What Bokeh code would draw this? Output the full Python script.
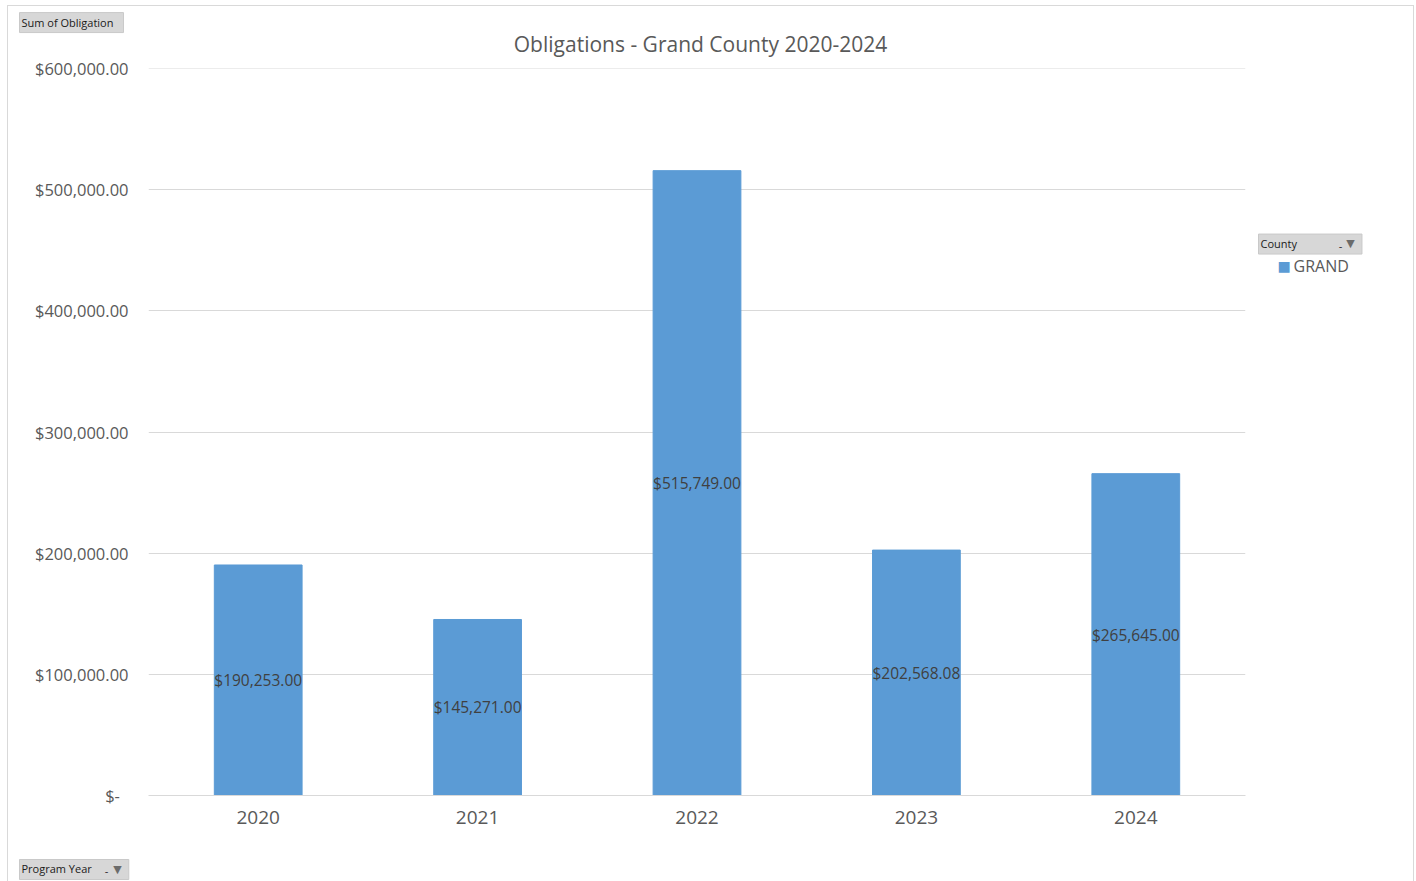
from bokeh.plotting import figure
from bokeh.models import (ColumnDataSource, Range1d, FixedTicker, NumeralTickFormatter,
                          Label, LabelSet)
from bokeh.core.properties import value
from bokeh.embed import file_html
from bokeh.resources import INLINE

# ---- data ----
years = ["2020", "2021", "2022", "2023", "2024"]
obligations = [190253.00, 145271.00, 515749.00, 202568.08, 265645.00]
label_texts = ["$190,253.00", "$145,271.00", "$515,749.00", "$202,568.08", "$265,645.00"]
y_ticks = [0, 100000, 200000, 300000, 400000, 500000, 600000]
title_text = "Obligations - Grand County 2020-2024"
series_name = "GRAND"
legend_field = "County"
value_field = "Sum of Obligation"
axis_field = "Program Year"

BAR = "#5B9BD5"
TXT = "#595959"
FONT = "Open Sans"
GRID = "#d9d9d9"

W, H = 1416, 881
FL, FR, FT, FB = 148, 1245, 68, 795  # frame edges in page pixels
YMAX = 600000


def dx(px):
    return (px - FL) / ((FR - FL) / len(years))


def dy(py):
    return (FB - py) / (FB - FT) * YMAX


src = ColumnDataSource(dict(x=years, top=obligations, mid=[v / 2 for v in obligations], lab=label_texts))

p = figure(width=W, height=H, x_range=years, y_range=Range1d(0, YMAX * 1.0001),
           output_backend="svg", toolbar_location=None,
           min_border_left=FL, min_border_right=W - FR, min_border_top=FT, min_border_bottom=H - FB)
p.outline_line_color = None
p.background_fill_color = "white"
p.border_fill_alpha = 0
p.styles = {
    "background-color": "white",
    "background-image": "linear-gradient(#d9d9d9,#d9d9d9),linear-gradient(#d9d9d9,#d9d9d9),linear-gradient(#d9d9d9,#d9d9d9)",
    "background-size": "1px 100%, 1406px 1px, 1px 100%",
    "background-position": "7px 5px, 7px 5px, 1413px 5px",
    "background-repeat": "no-repeat",
}

p.vbar(x="x", top="top", width=0.4, source=src, color=BAR)

p.add_layout(LabelSet(x="x", y="mid", text="lab", source=src, text_align="center",
                      text_baseline="middle", text_font=value(FONT), text_font_size="15.5px",
                      text_color="#404040"))

# axes
p.yaxis.ticker = FixedTicker(ticks=y_ticks)
p.yaxis.formatter = NumeralTickFormatter(format="$0,0.00")
p.yaxis.major_label_overrides = {0: "$-\u00a0\u00a0"}
p.yaxis.axis_line_color = None
p.yaxis.major_tick_line_color = None
p.yaxis.minor_tick_line_color = None
p.yaxis.major_label_standoff = 14
p.yaxis.major_label_text_font = FONT
p.yaxis.major_label_text_font_size = "16.5px"
p.yaxis.major_label_text_color = TXT

p.xaxis.axis_line_color = GRID
p.xaxis.major_tick_line_color = None
p.xaxis.minor_tick_line_color = None
p.xaxis.major_label_standoff = 9
p.xaxis.major_label_text_font = FONT
p.xaxis.major_label_text_font_size = "19px"
p.xaxis.major_label_text_color = TXT

p.xgrid.grid_line_color = None
p.ygrid.grid_line_color = GRID

# annotations placed in side panels are drawn without clipping to the frame
p.add_layout(Label(x=dx(700), y=dy(43), text=title_text, text_align="center", text_baseline="middle",
                   text_font=FONT, text_font_size="21px", text_color=TXT), "above")


def button(l, r, t, b, text, text_w, side):
    pad_l = 3
    pad_r = max(0, int(round((r - l) - pad_l - text_w)))
    p.add_layout(Label(x=dx(l), y=dy((t + b) / 2), text=text, text_align="left",
                       text_baseline="middle", text_font=FONT, text_font_size="11px",
                       text_color="#1a1a1a", background_fill_color="#d7d7d7",
                       border_line_color="#c9c9c9", padding=(2, pad_r, 2, pad_l)), side)


button(19, 124, 13, 31, value_field, 92, "above")
button(1258, 1362, 235, 252, legend_field, 36, "right")
button(19, 129, 860, 878, axis_field, 70, "below")

p.add_layout(Label(x=dx(1293), y=dy(265.5), text=series_name, text_align="left", text_baseline="middle",
                   text_font=FONT, text_font_size="16px", text_color=TXT), "below")


def glyph_label(px, py, t, size, color):
    p.add_layout(Label(x=dx(px), y=dy(py), text=t, text_align="center", text_baseline="middle",
                       text_font="DejaVu Sans", text_font_size=size, text_color=color), "right")


# filter icons and legend swatch
glyph_label(1350, 243, "\u25bc", "11px", "#6b6b6b")
glyph_label(1340, 245, "-", "10px", "#333333")
glyph_label(117, 869, "\u25bc", "11px", "#6b6b6b")
glyph_label(106, 871, "-", "10px", "#333333")
glyph_label(1283.5, 265.5, "\u25a0", "14px", BAR)

open("out.html", "w").write(file_html(p, INLINE))
